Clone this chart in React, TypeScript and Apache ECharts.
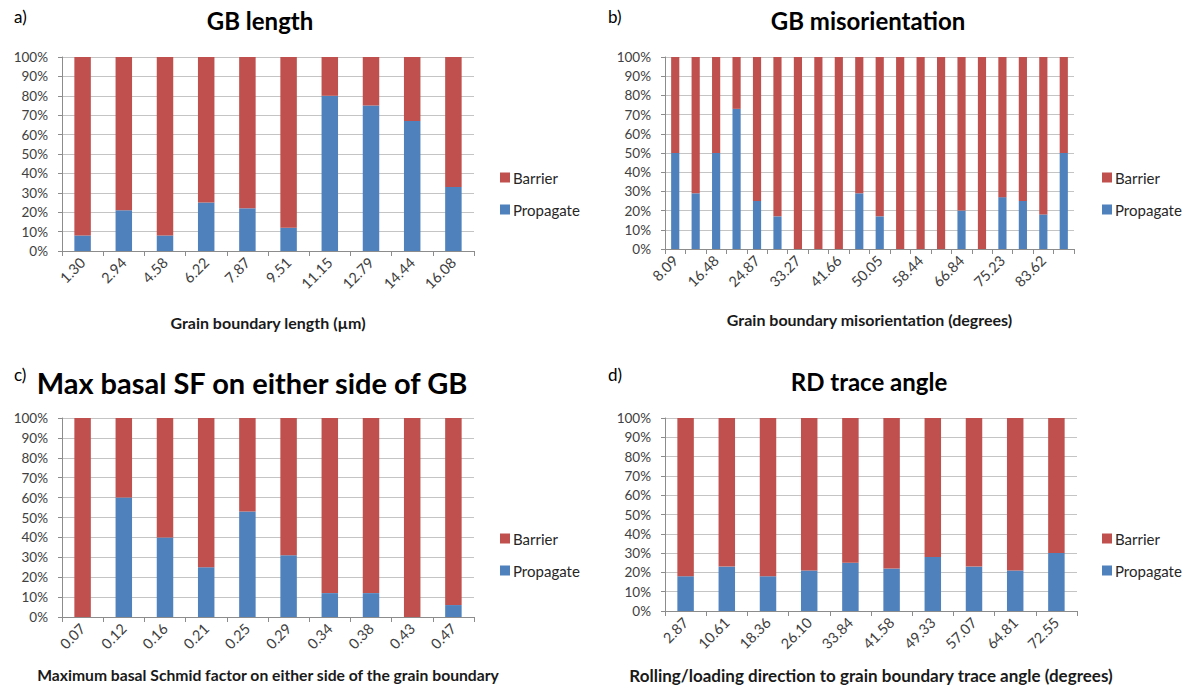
import React, { useEffect, useRef } from "react";
import * as echarts from "echarts";

const catA = ["1.30", "2.94", "4.58", "6.22", "7.87", "9.51", "11.15", "12.79", "14.44", "16.08"];
const propA = [8, 21, 8, 25, 22, 12, 80, 75, 67, 33];
const barrA = [92, 79, 92, 75, 78, 88, 20, 25, 33, 67];

const catB = ["8.09", "12.29", "16.48", "20.68", "24.87", "29.07", "33.27", "37.47", "41.66", "45.86", "50.05", "54.25", "58.44", "62.64", "66.84", "71.04", "75.23", "79.43", "83.62", "87.82"];
const propB = [50, 29, 50, 73, 25, 17, 0, 0, 0, 29, 17, 0, 0, 0, 20, 0, 27, 25, 18, 50];
const barrB = [50, 71, 50, 27, 75, 83, 100, 100, 100, 71, 83, 100, 100, 100, 80, 100, 73, 75, 82, 50];

const catC = ["0.07", "0.12", "0.16", "0.21", "0.25", "0.29", "0.34", "0.38", "0.43", "0.47"];
const propC = [0, 60, 40, 25, 53, 31, 12, 12, 0, 6];
const barrC = [100, 40, 60, 75, 47, 69, 88, 88, 100, 94];

const catD = ["2.87", "10.61", "18.36", "26.10", "33.84", "41.58", "49.33", "57.07", "64.81", "72.55"];
const propD = [18, 23, 18, 21, 25, 22, 28, 23, 21, 30];
const barrD = [82, 77, 82, 79, 75, 78, 72, 77, 79, 70];

const titles = ["GB length", "GB misorientation", "Max basal SF on either side of GB", "RD trace angle"];
const panelLabels = ["a)", "b)", "c)", "d)"];
const xNames = [
  "Grain boundary length (µm)",
  "Grain boundary misorientation (degrees)",
  "Maximum basal Schmid factor on either side of the grain boundary",
  "Rolling/loading direction to grain boundary trace angle (degrees)",
];

const BLUE = "#4F81BD";
const RED = "#C0504D";
const FONT = "Lato, 'Open Sans', sans-serif";

export default function App() {
  const ref = useRef<HTMLDivElement>(null);
  useEffect(() => {
    if (!ref.current) return;
    const chart = echarts.init(ref.current, undefined, { renderer: "svg" });
    const grids = [
      { left: 62, top: 57, width: 412, height: 194 },
      { left: 665, top: 57, width: 409, height: 192 },
      { left: 62, top: 418, width: 412, height: 199 },
      { left: 665, top: 418, width: 412, height: 193 },
    ];
    const cats = [catA, catB, catC, catD];
    const props = [propA, propB, propC, propD];
    const barrs = [barrA, barrB, barrC, barrD];
    const nameGaps = [63, 62, 50, 56];
    const nameSizes = [16, 16, 15.7, 17];
    const titlePos = [
      [260, 20],
      [868, 20],
      [252, 382],
      [869, 381],
    ];
    const titleSizes = [24, 24, 29, 24];
    const labelPos = [
      [14, 16],
      [608, 16],
      [14, 374],
      [608, 374],
    ];
    const legendPos = [
      [500, 170],
      [1102, 170],
      [500, 531],
      [1102, 531],
    ];

    const xAxis = cats.map((c, i) => ({
      type: "category",
      gridIndex: i,
      data: c,
      name: xNames[i],
      nameLocation: "middle",
      nameGap: nameGaps[i],
      nameTextStyle: { fontFamily: FONT, fontSize: nameSizes[i], fontWeight: "bold", color: "#1a1a1a" },
      axisLine: { lineStyle: { color: "#8c8c8c", width: 1 } },
      axisTick: { show: true, interval: 0, length: 5, lineStyle: { color: "#8c8c8c" } },
      axisLabel: {
        rotate: 45,
        interval: i === 1 ? 1 : 0,
        fontFamily: FONT,
        fontSize: 14.5,
        color: "#404040",
        margin: 9,
      },
      splitLine: { show: false },
    }));
    const yAxis = cats.map((_, i) => ({
      type: "value",
      gridIndex: i,
      min: 0,
      max: 100,
      interval: 10,
      axisLine: { show: true, lineStyle: { color: "#8c8c8c" } },
      axisTick: { show: true, length: 4, lineStyle: { color: "#8c8c8c" } },
      axisLabel: { formatter: "{value}%", fontFamily: FONT, fontSize: 13.5, color: "#404040", margin: 14 },
      splitLine: { show: true, lineStyle: { color: "#c4c4c4", width: 1 } },
    }));
    const series: any[] = [];
    for (let i = 0; i < 4; i++) {
      series.push({
        name: "Propagate",
        type: "bar",
        stack: "s" + i,
        xAxisIndex: i,
        yAxisIndex: i,
        data: props[i],
        barCategoryGap: "60%",
        itemStyle: { color: BLUE },
      });
      series.push({
        name: "Barrier",
        type: "bar",
        stack: "s" + i,
        xAxisIndex: i,
        yAxisIndex: i,
        data: barrs[i],
        barCategoryGap: "60%",
        itemStyle: { color: RED },
      });
    }
    const legend = legendPos.map(([x, y]) => ({
      left: x,
      top: y,
      padding: 0,
      orient: "vertical",
      data: ["Barrier", "Propagate"],
      icon: "rect",
      itemWidth: 10,
      itemHeight: 10,
      itemGap: 17,
      textStyle: { fontFamily: FONT, fontSize: 15, color: "#262626", padding: [0, 0, 0, -2] },
      selectedMode: false,
    }));
    const graphic: any[] = [];
    titles.forEach((t, i) => {
      graphic.push({
        type: "text",
        x: titlePos[i][0],
        y: titlePos[i][1],
        style: {
          text: t,
          fontFamily: FONT,
          fontSize: titleSizes[i],
          fontWeight: "bold",
          fill: "#000",
          textAlign: "center",
          align: "center",
          textVerticalAlign: "middle",
          verticalAlign: "middle",
        },
      });
      graphic.push({
        type: "text",
        x: labelPos[i][0],
        y: labelPos[i][1],
        style: {
          text: panelLabels[i],
          fontFamily: FONT,
          fontSize: 17,
          fill: "#000",
          textAlign: "left",
          align: "left",
          textVerticalAlign: "middle",
          verticalAlign: "middle",
        },
      });
    });
    chart.setOption({
      animation: false,
      backgroundColor: "#ffffff",
      grid: grids,
      xAxis,
      yAxis,
      series,
      legend,
      graphic,
    });
    return () => chart.dispose();
  }, []);
  return (
    <div
      ref={ref}
      style={{ position: "absolute", left: 0, top: 0, width: 1191, height: 691, background: "#fff" }}
    />
  );
}
